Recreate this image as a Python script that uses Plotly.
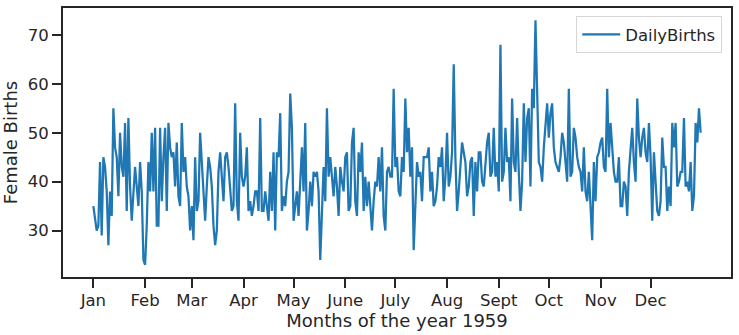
import plotly.graph_objects as go
import pandas as pd

births = [35, 32, 30, 31, 44, 29, 45, 43, 38, 27, 38, 33, 55, 47, 45, 37, 50, 43, 41, 52,
          34, 53, 39, 32, 37, 43, 39, 35, 44, 38, 24, 23, 31, 44, 38, 50, 38, 51, 31, 31,
          51, 36, 45, 51, 34, 52, 47, 45, 46, 39, 48, 37, 35, 52, 42, 45, 39, 37, 30, 35,
          28, 45, 34, 36, 50, 44, 39, 32, 39, 45, 43, 39, 31, 27, 30, 42, 46, 41, 36, 45,
          46, 43, 38, 34, 35, 56, 36, 32, 50, 41, 39, 41, 47, 34, 36, 33, 35, 38, 38, 34,
          53, 34, 34, 38, 35, 32, 42, 34, 46, 30, 46, 45, 54, 34, 37, 35, 40, 42, 58, 51,
          32, 35, 38, 33, 39, 47, 38, 52, 30, 34, 40, 35, 42, 41, 42, 38, 24, 34, 43, 36,
          55, 41, 45, 41, 37, 43, 39, 33, 43, 40, 38, 45, 46, 34, 35, 48, 51, 36, 33, 46,
          42, 48, 34, 41, 35, 40, 34, 30, 36, 40, 39, 45, 38, 47, 33, 30, 42, 43, 41, 41,
          59, 43, 45, 38, 37, 45, 42, 57, 46, 51, 41, 47, 26, 35, 44, 41, 42, 36, 45, 45,
          45, 47, 38, 42, 35, 36, 39, 45, 43, 47, 36, 41, 50, 39, 41, 46, 64, 45, 34, 38,
          44, 48, 46, 44, 37, 39, 44, 45, 33, 44, 38, 46, 46, 40, 39, 44, 48, 50, 41, 42,
          51, 41, 44, 38, 68, 40, 42, 51, 44, 45, 36, 57, 44, 42, 53, 42, 34, 40, 56, 44,
          53, 55, 39, 59, 55, 73, 55, 44, 43, 40, 47, 51, 56, 49, 54, 56, 47, 44, 43, 42,
          45, 50, 48, 43, 40, 59, 41, 42, 51, 49, 45, 43, 42, 38, 47, 38, 36, 42, 35, 28,
          44, 36, 45, 46, 48, 49, 43, 42, 59, 45, 52, 46, 42, 40, 40, 45, 35, 35, 40, 39,
          33, 42, 47, 51, 44, 40, 57, 49, 45, 49, 51, 46, 44, 52, 45, 32, 46, 41, 34, 33,
          36, 49, 43, 43, 34, 39, 35, 52, 47, 52, 39, 40, 42, 42, 53, 39, 40, 38, 44, 34,
          37, 52, 48, 55, 50]

dates = pd.date_range("1959-01-01", periods=len(births), freq="D")
month_starts = pd.date_range("1959-01-01", periods=12, freq="MS")
month_labels = ["Jan", "Feb", "Mar", "Apr", "May", "June", "July", "Aug", "Sept", "Oct", "Nov", "Dec"]
y_ticks = [30, 40, 50, 60, 70]

span = (dates[-1] - dates[0])
pad = span * 0.05
ymin, ymax = min(births), max(births)
ypad = (ymax - ymin) * 0.05

fig = go.Figure()
fig.add_trace(go.Scatter(x=dates, y=births, mode="lines", name="DailyBirths",
                         line=dict(color="#1f77b4", width=2.25)))

font = "DejaVu Sans, Arial, sans-serif"
ink = "#262626"
fig.update_layout(
    width=739, height=335,
    margin=dict(l=63, r=6, t=7, b=58),
    plot_bgcolor="white", paper_bgcolor="white",
    font=dict(family=font, size=16.5, color=ink),
    showlegend=True,
    legend=dict(x=0.9866, y=0.970, xanchor="right", yanchor="top",
                bgcolor="rgba(255,255,255,0.8)", bordercolor="#d6d6d6", borderwidth=1.2,
                itemwidth=38, font=dict(size=16.5, color=ink)),
    xaxis=dict(range=[dates[0] - pad, dates[-1] + pad], tickvals=month_starts, ticktext=month_labels,
               showgrid=False, zeroline=False, showline=True, mirror=True, linecolor=ink, linewidth=1.875,
               ticks="outside", ticklen=9, tickwidth=1.875, tickcolor=ink,
               tickfont=dict(size=16.5), ticklabelstandoff=-2,
               title=dict(text="Months of the year 1959", font=dict(size=18), standoff=1)),
    yaxis=dict(range=[ymin - ypad, ymax + ypad], tickvals=y_ticks,
               showgrid=False, zeroline=False, showline=True, mirror=True, linecolor=ink, linewidth=1.875,
               ticks="outside", ticklen=9, tickwidth=1.875, tickcolor=ink,
               tickfont=dict(size=16.5),
               title=dict(text="Female Births", font=dict(size=18), standoff=5)),
)

fig.write_html("out.html")
